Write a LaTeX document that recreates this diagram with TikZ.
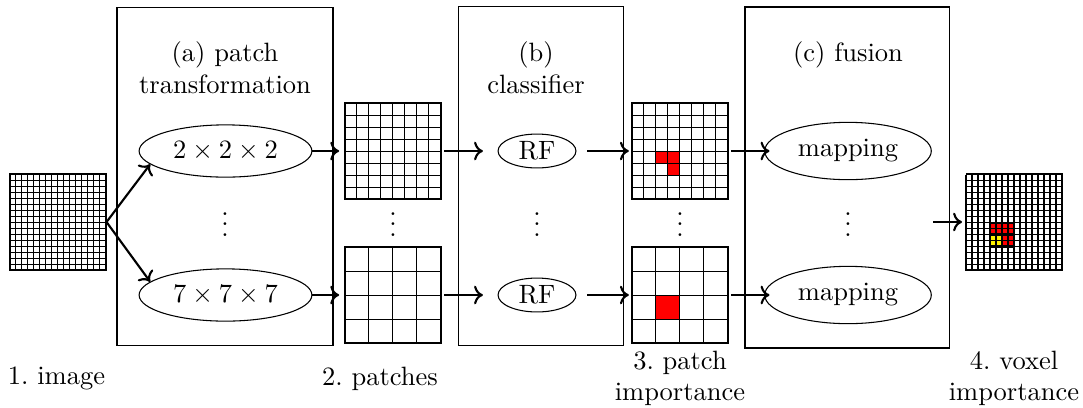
\documentclass[tikz,border=0pt]{standalone}
\usetikzlibrary{arrows.meta,shapes.geometric}

\tikzset{
  stage/.style={draw, inner sep=0pt},
  op/.style={draw, ellipse},
  rfop/.style={op, inner sep=0pt, minimum width=29.4pt, minimum height=12.8pt},
  raster/.style={draw, minimum size=36.23pt, inner sep=0pt},
  flow/.style={thick, -{To}},
}

\begin{document}
\begin{tikzpicture}[x=0.3774pt, y=0.3774pt]
\useasboundingbox (0,0) rectangle (1083,407);

% the three stages
\node[stage, minimum width=81.5pt, minimum height=127.9pt] (boxA) at (225,230.5) {};
\node[stage, minimum width=62.6pt, minimum height=127.6pt] (boxB) at (541,231) {};
\node[stage, minimum width=77pt, minimum height=128.7pt] (boxC) at (847,229.5) {};
\node[align=center] (titleA) at (225,339) {(a) patch\\transformation};
\node[align=center] (titleB) at (536,339) {(b)\\classifier};
\node (titleC) at (848,352.6) {(c) fusion};

% image, patches, importance maps
\node[raster] (img) at (58,185) {};
\node[raster] (patA) at (393,256) {};
\node[raster] (patB) at (393,112) {};
\node[raster] (impA) at (680,256) {};
\node[raster] (impB) at (680,112) {};
\node[raster] (vox) at (1014.5,185) {};
\fill[red, shift={(impA.south west)}] (24,36) rectangle (48,48) (36,24) rectangle (48,36);
\fill[red, shift={(impB.south west)}] (24,24) rectangle (48,48);
\fill[red, shift={(vox.south west)}] (24,36) rectangle (48,48) (36,24) rectangle (48,36);
\fill[yellow, shift={(vox.south west)}] (24,24) rectangle (36,36);
\foreach \g/\s in {img/6, patA/12, patB/24, impA/12, impB/24, vox/6}
  \draw[step=\s, shift={(\g.south west)}] (0,0) grid (96,96);
\draw[thick, step=12, shift={(vox.south west)}] (24,24) grid (48,48);

% operations
\node[op] (tfA) at (225.5,256) {$2\times2\times2$};
\node[op] (tfB) at (225.5,112) {$7\times7\times7$};
\node[rfop] (rfA) at (537,256) {RF};
\node[rfop] (rfB) at (537,112) {RF};
\node[op] (mapA) at (848,256) {mapping};
\node[op] (mapB) at (848,112) {mapping};
\foreach \x [count=\i] in {225,393,537,680,848}
  \node[anchor=base] (dots\i) at (\x,170.5) {$\vdots$};

% arrows
\draw[flow] (img.east) -- (tfA.190);
\draw[flow] (img.east) -- (tfB.170);
\foreach \r in {A,B}{
  \draw[flow, shorten >=2pt] (tf\r.east) -- (pat\r.west);
  \draw[flow, shorten <=1pt, shorten >=5.5pt] (pat\r.east) -- (rf\r.west);
  \draw[flow, shorten <=4pt, shorten >=1pt] (rf\r.east) -- (imp\r.west);
  \draw[flow, shorten <=1pt, shorten >=-2pt] (imp\r.east) -- (map\r.west);
}
\coordinate (fuseout) at (933,185);
\draw[flow, shorten >=1.5pt] (fuseout) -- (vox.west);

% captions
\node (capImg) at (56.5,28.6) {1.\ image};
\node (capPat) at (380,28.6) {2.\ patches};
\node[align=center] (capImp) at (680,28.6) {3.\ patch\\importance};
\node[align=center] (capVox) at (1014,28.6) {4.\ voxel\\importance};
\end{tikzpicture}
\end{document}
